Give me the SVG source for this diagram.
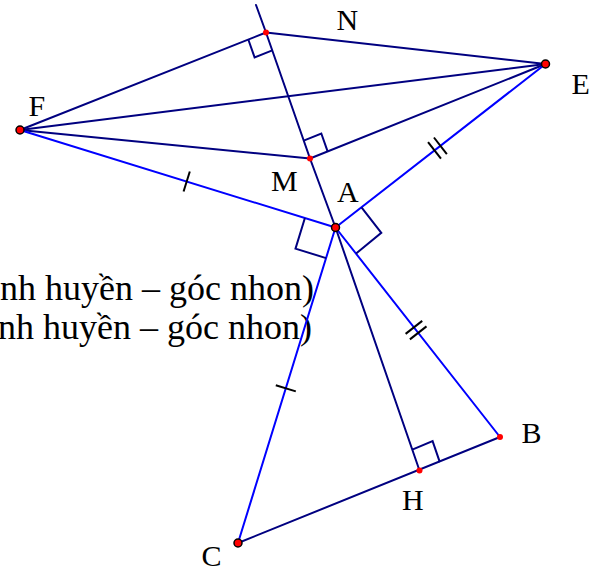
<svg xmlns="http://www.w3.org/2000/svg" width="592" height="572" viewBox="0 0 592 572">
<style>
.nv{stroke:#000080;stroke-width:2;fill:none;stroke-linecap:round;stroke-linejoin:round}
.bl{stroke:#0000ff;stroke-width:2;fill:none;stroke-linecap:round}
.tk{stroke:#000000;stroke-width:2;fill:none}
.ra{stroke:#000080;stroke-width:2;fill:none;stroke-linejoin:miter}
.big{fill:#ff0000;stroke:#000000;stroke-width:1.5}
.sm{fill:#ff0000;stroke:none}
text{font-family:"Liberation Serif","Times New Roman",serif;fill:#000000}
.lb{font-size:30px}
.tx{font-size:36px}
</style>
<rect width="592" height="572" fill="#ffffff"/>
<g id="notes">
<text class="tx" x="0" y="300">nh huyền – góc nhon)</text>
<text class="tx" x="-2" y="339">nh huyền – góc nhon)</text>
</g>
<g id="connectors">
<line class="nv" x1="20" y1="130" x2="266" y2="32.5"/>
<line class="nv" x1="266" y1="32.5" x2="545.5" y2="64"/>
<line class="nv" x1="20" y1="130" x2="545.5" y2="64"/>
<line class="nv" x1="20" y1="130" x2="310" y2="158.5"/>
<line class="nv" x1="310" y1="158.5" x2="545.5" y2="64"/>
<polyline class="nv" points="256,5 266,32.5 310,158.5 335.5,227.5 419.5,470.5"/>
<line class="nv" x1="238" y1="543" x2="500" y2="437"/>
<line class="bl" x1="20" y1="130" x2="335.5" y2="227.5"/>
<line class="bl" x1="335.5" y1="227.5" x2="545.5" y2="64"/>
<line class="bl" x1="335.5" y1="227.5" x2="500" y2="437"/>
<line class="bl" x1="335.5" y1="227.5" x2="238" y2="543"/>
</g>
<g id="right-angles">
<polyline class="ra" points="248.3,39.5 254.6,57.4 272.3,50.4"/>
<polyline class="ra" points="303.7,140.6 321.3,133.5 327.6,151.4"/>
<polyline class="ra" points="304.9,218.05 295.5,248.6 326.05,258.1"/>
<polyline class="ra" points="361.5,207.3 381.3,232.8 356.1,253.4"/>
<polyline class="ra" points="412.3,449.7 432.6,441.2 439.8,462.05"/>
</g>
<g id="ticks">
<line class="tk" x1="183.6" y1="191.5" x2="189.8" y2="171.5"/>
<line class="tk" x1="275.8" y1="385.2" x2="295.8" y2="391.4"/>
<line class="tk" x1="428.05" y1="142.1" x2="440.95" y2="158.7"/>
<line class="tk" x1="433.95" y1="137.5" x2="446.85" y2="154.1"/>
<line class="tk" x1="405.6" y1="333.9" x2="422.2" y2="320.9"/>
<line class="tk" x1="409.9" y1="339.4" x2="426.5" y2="326.4"/>
</g>
<g id="node-N"><circle class="sm" cx="266" cy="32.5" r="3"/><text class="lb" x="336.5" y="30">N</text></g>
<g id="node-E"><circle class="big" cx="545.5" cy="64" r="4"/><text class="lb" x="571.5" y="94">E</text></g>
<g id="node-F"><circle class="big" cx="20" cy="130" r="4"/><text class="lb" x="28.5" y="116">F</text></g>
<g id="node-M"><circle class="sm" cx="310" cy="158.5" r="3"/><text class="lb" x="271" y="190.5">M</text></g>
<g id="node-A"><circle class="big" cx="335.5" cy="227.5" r="4"/><text class="lb" x="337" y="201.5">A</text></g>
<g id="node-B"><circle class="sm" cx="500" cy="437" r="3"/><text class="lb" x="521.5" y="443">B</text></g>
<g id="node-H"><circle class="sm" cx="419.5" cy="470.5" r="3"/><text class="lb" x="402" y="510">H</text></g>
<g id="node-C"><circle class="big" cx="238" cy="543" r="4"/><text class="lb" x="201.5" y="565.5">C</text></g>
</svg>
